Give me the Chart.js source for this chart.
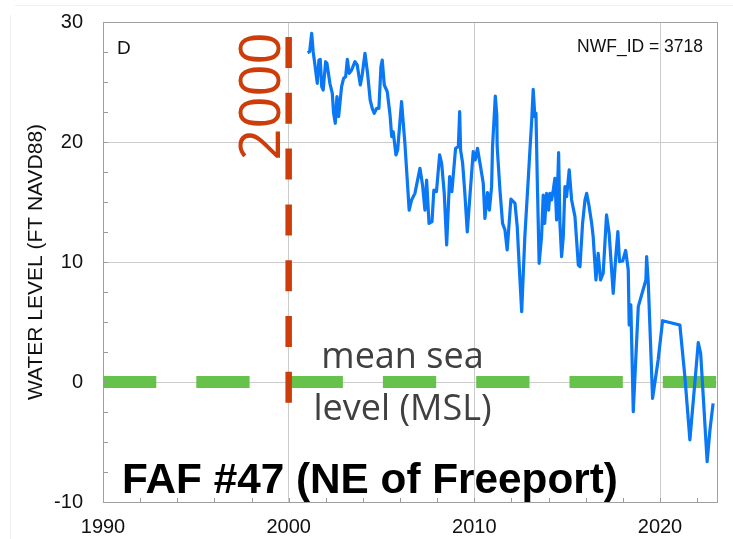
<!DOCTYPE html>
<html>
<head>
<meta charset="utf-8">
<script src="https://cdn.jsdelivr.net/npm/chart.js@4.4.0/dist/chart.umd.min.js"></script>
<style>
  html, body { margin: 0; padding: 0; background: #ffffff; }
  #wrap { position: relative; width: 733px; height: 539px; }
  canvas { display: block; }
</style>
</head>
<body>
<div id="wrap"><canvas id="c" width="733" height="539"></canvas></div>
<script>
// ---- data ----
const years = [2001.02,2001.13,2001.24,2001.32,2001.45,2001.54,2001.63,2001.70,2001.78,2001.86,
  2001.99,2002.06,2002.22,2002.35,2002.42,2002.51,2002.60,2002.69,2002.85,2002.96,
  2003.07,2003.16,2003.26,2003.39,2003.57,2003.69,2003.86,2003.96,2004.11,2004.25,
  2004.39,2004.50,2004.61,2004.74,2004.86,2004.97,2005.04,2005.15,2005.31,2005.46,
  2005.55,2005.63,2005.78,2005.87,2006.08,2006.26,2006.49,2006.62,2006.80,2007.07,
  2007.21,2007.34,2007.43,2007.56,2007.72,2007.82,2007.96,2008.13,2008.24,2008.38,
  2008.51,2008.67,2008.79,2008.99,2009.14,2009.21,2009.26,2009.37,2009.49,2009.62,
  2009.76,2009.94,2010.05,2010.17,2010.32,2010.48,2010.57,2010.71,2010.81,2010.93,
  2010.98,2011.13,2011.21,2011.23,2011.38,2011.52,2011.65,2011.77,2011.97,2012.19,
  2012.31,2012.42,2012.55,2012.72,2012.90,2013.09,2013.17,2013.26,2013.32,2013.39,
  2013.49,2013.62,2013.71,2013.79,2013.89,2014.00,2014.07,2014.16,2014.25,2014.34,
  2014.43,2014.54,2014.61,2014.70,2014.79,2014.88,2014.97,2015.11,2015.24,2015.42,
  2015.60,2015.69,2015.83,2015.96,2016.05,2016.17,2016.32,2016.40,2016.55,2016.67,
  2016.80,2016.94,2017.12,2017.26,2017.48,2017.62,2017.73,2017.82,2017.99,2018.15,
  2018.29,2018.34,2018.43,2018.56,2018.83,2019.24,2019.28,2019.37,2019.60,2019.90,
  2020.14,2021.07,2021.34,2021.61,2021.92,2022.06,2022.19,2022.33,2022.54,2022.69,2022.86];
const levels = [27.44,27.53,29.06,27.53,26.0,24.89,26.83,26.89,24.61,24.33,
  26.69,26.56,24.89,24.06,22.39,21.56,23.78,22.11,24.61,25.31,
  25.44,26.89,25.72,26.0,26.69,26.42,24.75,25.58,27.39,25.72,
  23.5,22.81,22.39,22.81,22.81,26.28,26.83,24.75,24.19,22.25,
  20.44,20.86,18.92,19.33,23.36,19.89,14.33,15.17,15.72,17.81,
  16.42,14.33,16.83,13.22,13.36,16.0,15.86,18.92,18.22,15.72,
  11.42,17.11,15.86,19.47,19.61,22.53,19.33,18.22,15.72,12.5,
  15.44,19.19,18.5,19.47,18.08,16.56,13.64,15.79,14.33,16.28,
  19.61,23.83,22.25,19.61,16.0,13.22,12.67,11.0,15.25,14.89,
  12.94,9.61,5.86,12.11,16.83,21.83,24.39,22.11,22.39,16.83,
  9.89,12.11,15.58,13.22,15.72,14.33,15.72,15.17,16.0,16.97,
  13.5,19.11,13.22,10.44,12.11,16.28,15.44,17.67,15.17,13.78,
  9.75,9.61,13.22,15.17,15.72,14.75,13.22,12.11,8.5,10.72,
  8.5,9.06,13.92,12.39,7.39,10.5,12.53,10.03,10.08,10.96,
  9.33,4.75,6.42,-2.47,6.28,8.5,10.44,8.22,-1.36,1.83,
  5.11,4.75,0.44,-4.83,0.72,3.28,2.39,-1.22,-6.64,-4.0,-1.78];

const markerYearX = [2000, 2000];
const markerYearY = [28.75, -1.75];
const mslX = [1990, 2023.07];
const mslY = [0, 0];

const xTicks = [1990, 2000, 2010, 2020];
const yTicks = [-10, 0, 10, 20, 30];
const xMinorStep = 2;
const yMinorStep = 2.5;

const xMin = 1990, xMax = 2023.07, yMin = -10, yMax = 30;

const yTitle = 'WATER LEVEL (FT NAVD88)';
const panelLabel = 'D';
const idLabel = 'NWF_ID = 3718';
const mslLines = ['mean sea', 'level (MSL)'];
const yearLabel = '2000';
const siteTitle = 'FAF #47 (NE of Freeport)';

const zip = (xs, ys) => xs.map((x, i) => ({ x, y: ys[i] }));

// ---- plugins ----
const decor = {
  id: 'decor',
  beforeDraw(chart) {
    const ctx = chart.ctx;
    ctx.save();
    ctx.strokeStyle = '#efefef';
    ctx.lineWidth = 1;
    ctx.beginPath();
    ctx.moveTo(15, 5.5); ctx.lineTo(733, 5.5);
    ctx.moveTo(10.5, 15); ctx.lineTo(10.5, 539);
    ctx.stroke();
    ctx.restore();
  },
  beforeDatasetsDraw(chart) {
    const ctx = chart.ctx;
    const a = chart.chartArea;
    ctx.save();
    ctx.strokeStyle = '#a0a0a0';
    ctx.lineWidth = 1;
    ctx.strokeRect(Math.round(a.left) + 0.5, Math.round(a.top) + 0.5,
      Math.round(a.right - a.left), Math.round(a.bottom - a.top));
    ctx.restore();
  },
  afterDatasetsDraw(chart) {
    const ctx = chart.ctx;
    const xs = chart.scales.x, ys = chart.scales.y;
    const a = chart.chartArea;
    ctx.save();
    // minor ticks (inward)
    ctx.strokeStyle = '#9a9a9a';
    ctx.lineWidth = 1;
    ctx.beginPath();
    for (let v = xMin + xMinorStep; v < xMax; v += xMinorStep) {
      const px = Math.round(xs.getPixelForValue(v)) + 0.5;
      ctx.moveTo(px, a.bottom); ctx.lineTo(px, a.bottom - 4);
    }
    for (let v = yMin + yMinorStep; v < yMax; v += yMinorStep) {
      const py = Math.round(ys.getPixelForValue(v)) + 0.5;
      ctx.moveTo(a.left, py); ctx.lineTo(a.left + 5, py);
    }
    ctx.stroke();

    // panel label
    ctx.fillStyle = '#111';
    ctx.font = '19px "Liberation Sans", Arial, sans-serif';
    ctx.textAlign = 'left';
    ctx.textBaseline = 'alphabetic';
    ctx.fillText(panelLabel, 117, 54);

    ctx.font = '17.5px "Liberation Sans", Arial, sans-serif';
    ctx.textAlign = 'right';
    ctx.fillText(idLabel, 703, 52);

    // y axis title
    ctx.save();
    ctx.translate(41.5, 262);
    ctx.rotate(-Math.PI / 2);
    ctx.textAlign = 'center';
    ctx.textBaseline = 'alphabetic';
    ctx.font = '21px "Liberation Sans", Arial, sans-serif';
    ctx.fillStyle = '#111';
    ctx.fillText(yTitle, 0, 0);
    ctx.restore();

    // 2000 label
    ctx.save();
    ctx.translate(280, 96.5);
    ctx.rotate(-Math.PI / 2);
    ctx.textAlign = 'center';
    ctx.textBaseline = 'alphabetic';
    ctx.font = '56px "Open Sans", sans-serif';
    ctx.fillStyle = '#cc3d0a';
    ctx.fillText(yearLabel, 0, 0);
    ctx.restore();

    // MSL label
    ctx.fillStyle = '#404040';
    ctx.font = '36px "Open Sans", sans-serif';
    ctx.textAlign = 'center';
    ctx.fillText(mslLines[0], 402.5, 368);
    ctx.fillText(mslLines[1], 402.5, 420);

    // site title
    ctx.fillStyle = '#000';
    ctx.font = 'bold 42.3px "Liberation Sans", Arial, sans-serif';
    ctx.textAlign = 'left';
    ctx.fillText(siteTitle, 122, 493);
    ctx.restore();
  }
};

new Chart(document.getElementById('c'), {
  type: 'line',
  data: {
    datasets: [
      {
        label: 'Water level',
        data: zip(years, levels),
        borderColor: '#0a78f5',
        borderWidth: 3.2,
        borderJoinStyle: 'round',
        pointRadius: 0,
        tension: 0,
        fill: false
      },
      {
        label: '2000',
        data: zip(markerYearX, markerYearY),
        borderColor: '#cc3d0a',
        borderWidth: 6.5,
        borderDash: [31, 24.8],
        borderCapStyle: 'butt',
        pointRadius: 0,
        fill: false
      },
      {
        label: 'MSL',
        data: zip(mslX, mslY),
        borderColor: '#66c24a',
        borderWidth: 12,
        borderDash: [53.3, 40],
        borderCapStyle: 'butt',
        pointRadius: 0,
        fill: false
      }
    ]
  },
  options: {
    responsive: false,
    animation: false,
    events: [],
    layout: { padding: { top: 22, right: 16, left: 0, bottom: 0 } },
    plugins: { legend: { display: false }, tooltip: { enabled: false }, title: { display: false } },
    scales: {
      x: {
        type: 'linear',
        min: xMin,
        max: xMax,
        afterBuildTicks: s => { s.ticks = xTicks.map(v => ({ value: v })); },
        afterFit: s => { s.height = 37; s.paddingLeft = 0; s.paddingRight = 0; },
        grid: { color: '#cccccc', lineWidth: 1, drawTicks: false },
        border: { color: '#a0a0a0', width: 1 },
        ticks: {
          color: '#111',
          font: { family: '"Liberation Sans", Arial, sans-serif', size: 20 },
          padding: 13,
          maxRotation: 0,
          autoSkip: false,
          callback: v => String(v)
        }
      },
      y: {
        type: 'linear',
        min: yMin,
        max: yMax,
        afterBuildTicks: s => { s.ticks = yTicks.map(v => ({ value: v })); },
        afterFit: s => { s.width = 103; s.paddingTop = 0; s.paddingBottom = 0; },
        grid: { color: '#cccccc', lineWidth: 1, drawTicks: false },
        border: { color: '#a0a0a0', width: 1 },
        ticks: {
          color: '#111',
          font: { family: '"Liberation Sans", Arial, sans-serif', size: 20 },
          padding: 20,
          autoSkip: false,
          callback: v => String(v)
        }
      }
    }
  },
  plugins: [decor]
});
</script>
</body>
</html>
